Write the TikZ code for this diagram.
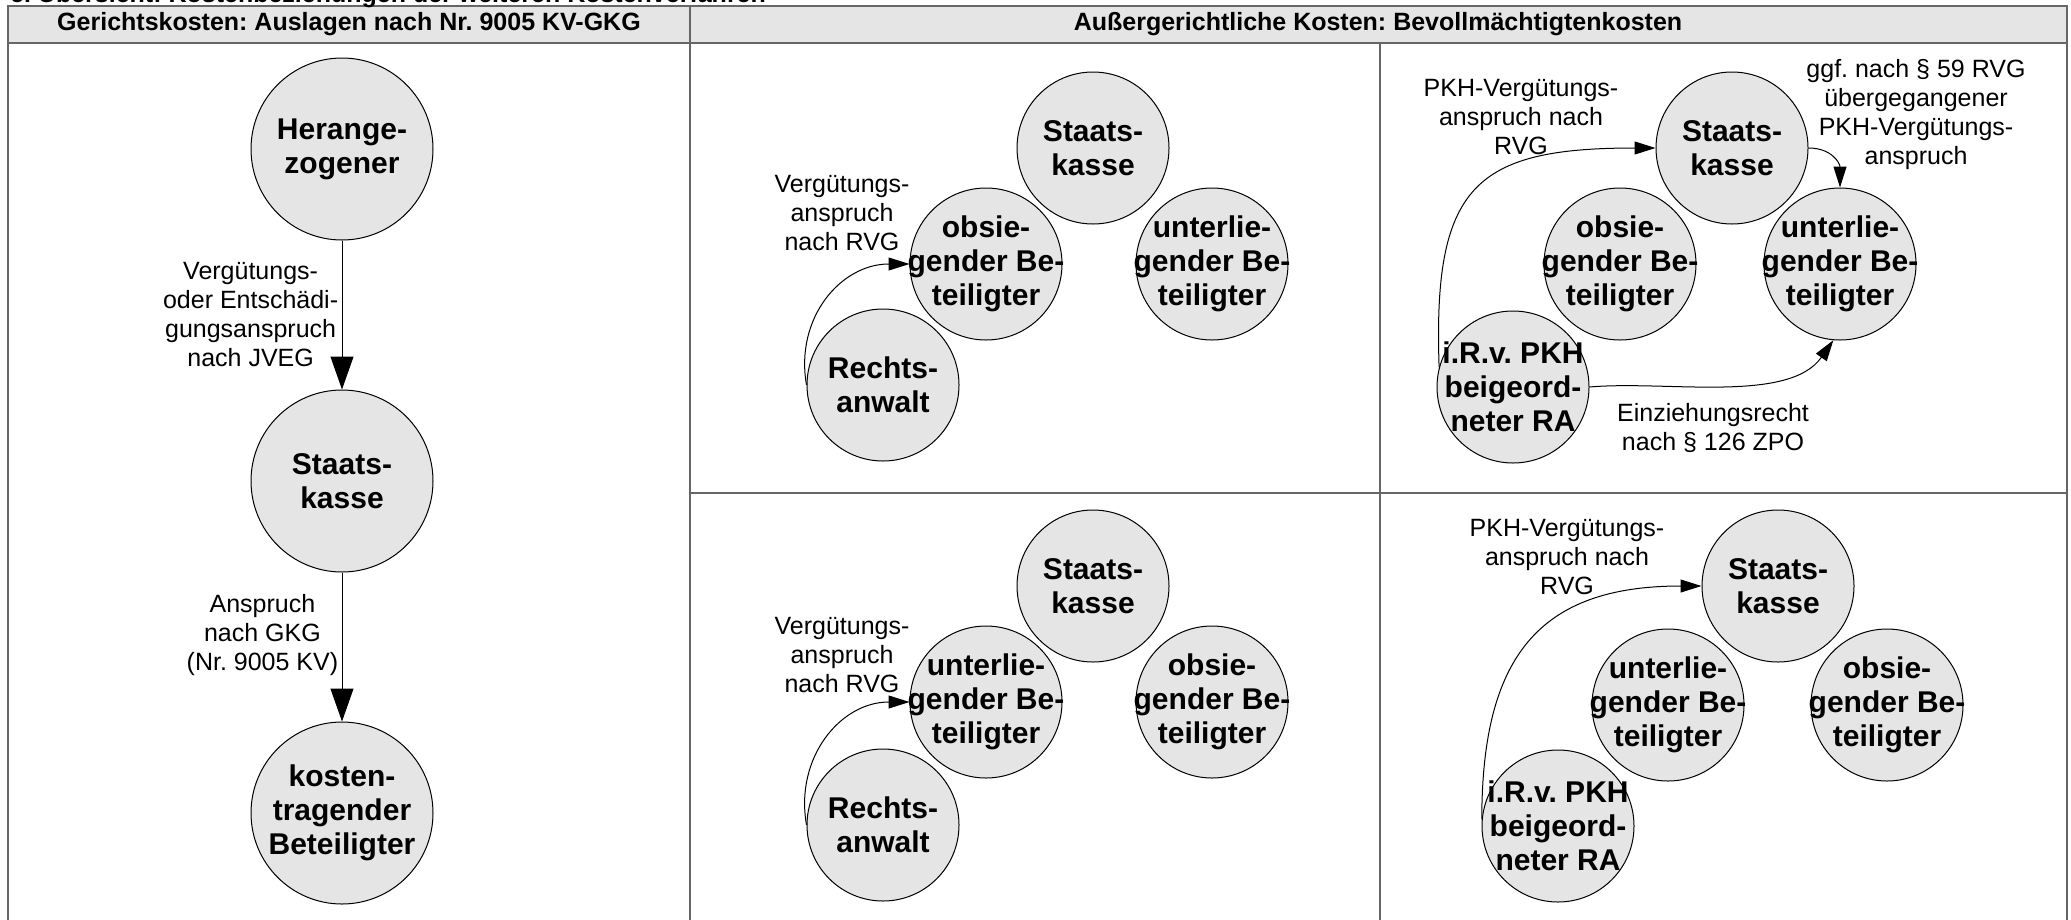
\documentclass[tikz,border=0pt]{standalone}
\usepackage{fontspec}
\setmainfont{Liberation Sans}
\usetikzlibrary{arrows.meta,positioning}
\frenchspacing

\begin{document}
\begin{tikzpicture}[x=1pt, y=1pt, party/.style = {circle, draw, fill=black!10, minimum size=152pt, inner sep=0pt, line width=1pt}, bigparty/.style = {party, minimum size=182pt}, ptext/.style = {align=center, font=\bfseries\fontsize{30}{34}\selectfont}, note/.style = {align=center, font=\fontsize{25}{29}\selectfont}, head/.style = {font=\bfseries\fontsize{25}{29}\selectfont}, grid/.style = {draw=black!60, line width=2pt}, line/.style = {draw, line width=1pt, -{Triangle[length=21pt,width=13pt]}}, bigline/.style = {line, -{Triangle[length=33pt,width=23pt]}}, node distance = 332pt]
			\useasboundingbox (0,0) rectangle (2071,-919);
			\clip (0,0) rectangle (2071,-919);
			
			% table
			\fill[black!10] (8,-5.5) rectangle (2067,-43);
			\draw[grid] (8,-960) -- (8,-5.5) -- (2067,-5.5) -- (2067,-960);
			\draw[grid] (8,-43) -- (2067,-43);
			\draw[grid] (690,-5.5) -- (690,-960);
			\draw[grid] (1380,-43) -- (1380,-960);
			\draw[grid] (690,-493) -- (2067,-493);
			\node[head, anchor=base west, inner sep=0pt] (title) at (10,-2) {c. Übersicht: Kostenbeziehungen der weiteren Kostenverfahren};
			\node[head] (gkhead) at (349,-24) {Gerichtskosten: Auslagen nach Nr. 9005 KV-GKG};
			\node[head] (akhead) at (1378,-24) {Außergerichtliche Kosten: Bevollmächtigtenkosten};
			
			% Gerichtskosten
			\node[bigparty, label={[ptext]center:Herange-\\zogener}] (her) at (342,-149) {};
			\node[bigparty, below of=her, label={[ptext]center:Staats-\\kasse}] (kasse) {};
			\node[bigparty, below of=kasse, label={[ptext]center:kosten-\\tragender\\Beteiligter}] (kosttr) {};
			\path[bigline] (her) -- node[note, left] {Vergütungs-\\oder Entschädi-\\gungsanspruch\\nach JVEG} (kasse);
			\path[bigline] (kasse) -- node[note, left, pos=0.42] {Anspruch\\nach GKG\\(Nr. 9005 KV)} (kosttr);
			
			% Wahlanwalt, obsiegend
			\node[party, label={[ptext]center:Staats-\\kasse}] (kasseA) at (1093,-148) {};
			\node[party, label={[ptext]center:obsie-\\gender Be-\\teiligter}] (obsA) at (986,-264) {};
			\node[party, label={[ptext]center:unterlie-\\gender Be-\\teiligter}] (unterA) at (1212,-264) {};
			\node[party, label={[ptext]center:Rechts-\\anwalt}] (raA) at (883,-385) {};
			\node[note] (vgA) at (842,-213) {Vergütungs-\\anspruch\\nach RVG};
			\path[line] (raA.west) to[out=100, in=180, looseness=1.1] (obsA.west);
			
			% PKH, obsiegend
			\node[party, label={[ptext]center:Staats-\\kasse}] (kasseB) at (1732,-148) {};
			\node[party, label={[ptext]center:obsie-\\gender Be-\\teiligter}] (obsB) at (1620,-264) {};
			\node[party, label={[ptext]center:unterlie-\\gender Be-\\teiligter}] (unterB) at (1840,-264) {};
			\node[party, label={[ptext]center:i.R.v. PKH\\beigeord-\\neter RA}] (pkhB) at (1513,-387) {};
			\node[note] (vgB) at (1521,-117) {PKH-Vergütungs-\\anspruch nach\\RVG};
			\node[note] (uebB) at (1916,-115) {ggf. nach § 59 RVG\\übergegangener\\PKH-Vergütungs-\\anspruch};
			\node[note] (einzB) at (1713,-428) {Einziehungsrecht\\nach § 126 ZPO};
			\path[line] (pkhB.165) to[out=92, in=180, looseness=1.5] (kasseB.west);
			\path[line] (pkhB.east) to[out=5, in=235, looseness=0.8] (unterB.265);
			\path[line] (kasseB.east) to[out=0, in=90, looseness=1.2] (unterB.north);
			
			% Wahlanwalt, unterliegend
			\node[party, label={[ptext]center:Staats-\\kasse}] (kasseC) at (1093,-586) {};
			\node[party, label={[ptext]center:unterlie-\\gender Be-\\teiligter}] (unterC) at (986,-702) {};
			\node[party, label={[ptext]center:obsie-\\gender Be-\\teiligter}] (obsC) at (1212,-702) {};
			\node[party, label={[ptext]center:Rechts-\\anwalt}] (raC) at (883,-825) {};
			\node[note] (vgC) at (842,-655) {Vergütungs-\\anspruch\\nach RVG};
			\path[line] (raC.west) to[out=100, in=180, looseness=1.1] (unterC.west);
			
			% PKH, unterliegend
			\node[party, label={[ptext]center:Staats-\\kasse}] (kasseD) at (1778,-586) {};
			\node[party, label={[ptext]center:unterlie-\\gender Be-\\teiligter}] (unterD) at (1668,-705) {};
			\node[party, label={[ptext]center:obsie-\\gender Be-\\teiligter}] (obsD) at (1887,-705) {};
			\node[party, label={[ptext]center:i.R.v. PKH\\beigeord-\\neter RA}] (pkhD) at (1558,-826) {};
			\node[note] (vgD) at (1567,-557) {PKH-Vergütungs-\\anspruch nach\\RVG};
			\path[line] (pkhD.175) to[out=90, in=180, looseness=1.3] (kasseD.west);
			\end{tikzpicture}
\end{document}
